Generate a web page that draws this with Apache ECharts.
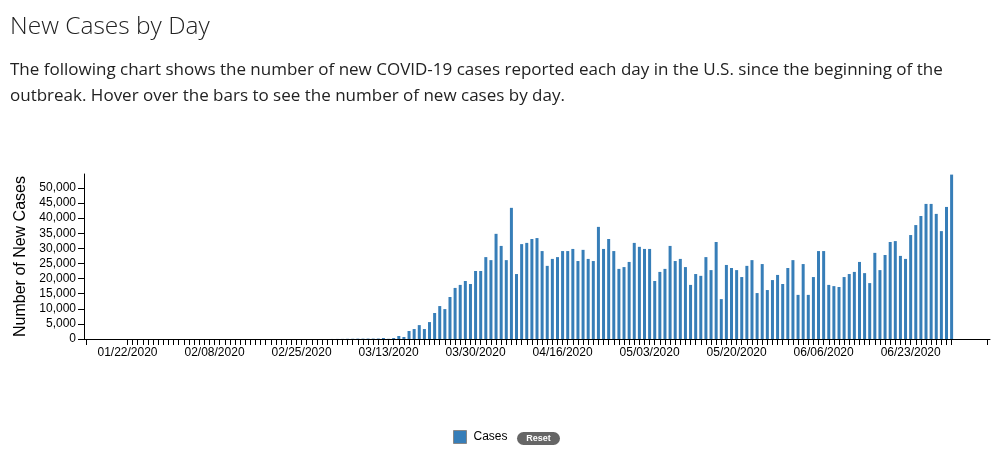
<!DOCTYPE html>
<html>
<head>
<meta charset="utf-8">
<title>New Cases by Day</title>
<script src="https://cdn.jsdelivr.net/npm/echarts@6/dist/echarts.min.js"></script>
<style>
  html, body { margin: 0; padding: 0; background: #fff; }
  #chart { width: 999px; height: 455px; }
</style>
</head>
<body>
<div id="chart"></div>
<script>
// daily new cases, first day 01/22/2020
const firstDay = "2020-01-22";
const janCases = [1, 0, 1, 0, 3, 0, 0, 0, 1, 1];
const febCases = [0, 2, 3, 0, 0, 0, 0, 1, 0, 1, 0, 0, 1, 0, 0, 0, 0, 0, 0, 0,
  0, 0, 0, 0, 0, 0, 1, 3, 9];
const marCases = [7, 13, 22, 31, 64, 81, 118, 120, 135, 140, 150,
  330, 60, 330, 1000, 660, 2650, 3300, 4600, 3300, 5600,
  8600, 10900, 9900, 13900, 16900, 17900, 19200, 18200, 22500, 22500];
const aprCases = [27100, 26100, 34800, 30800, 26100, 43400, 21500, 31400, 31800, 33100,
  33400, 29100, 24200, 26500, 27100, 29100, 29100, 29800, 25800, 29500,
  26500, 25800, 37100, 29800, 33100, 29100, 23200, 23800, 25500, 31800];
const mayCases = [30500, 29800, 29800, 19200, 22200, 23200, 30800, 25800, 26500, 23800,
  17900, 21500, 20900, 27100, 22800, 32100, 13200, 24500, 23500, 22800,
  20500, 24200, 26100, 15200, 24800, 16200, 19500, 21200, 18200, 23500, 26100];
const junCases = [14600, 24800, 14600, 20500, 29100, 29100, 17900, 17500, 17200, 20500,
  21500, 22200, 25500, 21800, 18500, 28500, 22800, 27800, 32100, 32400,
  27500, 26500, 34400, 37700, 40700, 44700, 44700, 41400, 35700, 43700];
const julCases = [54400];
const yMax = 54600;
const labelEvery = 17;

const cases = [].concat(janCases, febCases, marCases, aprCases, mayCases, junCases, julCases);

// empty days on both ends of the time axis
const padLeft = 8;
const padRight = 7;

function fmtDate(d) {
  const mm = String(d.getUTCMonth() + 1).padStart(2, "0");
  const dd = String(d.getUTCDate()).padStart(2, "0");
  return mm + "/" + dd + "/" + d.getUTCFullYear();
}

const days = [];
const start = new Date(firstDay + "T00:00:00Z");
for (let i = -padLeft; i < cases.length + padRight; i++) {
  days.push(fmtDate(new Date(start.getTime() + i * 86400000)));
}
const lastCat = days.length - 1;
const isDataDay = idx => idx >= padLeft && idx < padLeft + cases.length;

const chart = echarts.init(document.getElementById("chart"));

const option = {
  animation: false,
  title: [
    {
      text: "New Cases by Day",
      left: 10,
      top: 15,
      padding: 0,
      textStyle: {
        fontFamily: "Open Sans",
        fontSize: 24.5,
        fontWeight: 300,
        color: "#222"
      }
    },
    {
      text: "The following chart shows the number of new COVID-19 cases reported each day in the U.S. since the beginning of the\noutbreak. Hover over the bars to see the number of new cases by day.",
      left: 10,
      top: 57,
      padding: 0,
      textStyle: {
        fontFamily: "Open Sans",
        fontSize: 17,
        fontWeight: "normal",
        lineHeight: 26,
        color: "#222"
      }
    }
  ],
  legend: {
    data: ["Cases"],
    left: 453,
    top: 430,
    padding: 0,
    icon: "rect",
    itemWidth: 13,
    itemHeight: 13,
    itemGap: 10,
    itemStyle: { borderColor: "#888", borderWidth: 1 },
    textStyle: { fontFamily: "Liberation Sans", fontSize: 12, color: "#000", padding: [0, 0, 0, 2] }
  },
  tooltip: { trigger: "axis" },
  grid: {
    left: 84,
    right: 9,
    top: 174,
    bottom: 116,
    outerBoundsMode: "none"
  },
  xAxis: {
    type: "category",
    data: days,
    axisLine: { lineStyle: { color: "#000", width: 1 } },
    axisTick: {
      show: true,
      alignWithLabel: true,
      length: 6,
      lineStyle: { color: "#000", width: 1 },
      interval: function (idx) {
        return idx === 0 || idx === lastCat || isDataDay(idx);
      }
    },
    axisLabel: {
      interval: function (idx) {
        return isDataDay(idx) && (idx - padLeft) % labelEvery === 0;
      },
      margin: 8,
      fontFamily: "Liberation Sans",
      fontSize: 12,
      color: "#000"
    },
    splitLine: { show: false }
  },
  yAxis: {
    type: "value",
    min: 0,
    max: yMax,
    interval: 5000,
    name: "Number of New Cases",
    nameLocation: "middle",
    nameGap: 54,
    nameTextStyle: { fontFamily: "Liberation Sans", fontSize: 16, color: "#000" },
    axisLine: { show: true, lineStyle: { color: "#000", width: 1 } },
    axisTick: { show: true, length: 6, lineStyle: { color: "#000" } },
    axisLabel: {
      showMaxLabel: false,
      margin: 8,
      fontFamily: "Liberation Sans",
      fontSize: 12,
      color: "#000",
      formatter: v => v.toLocaleString("en-US")
    },
    splitLine: { show: false }
  },
  graphic: [
    {
      type: "group",
      left: 517,
      top: 432,
      children: [
        {
          type: "rect",
          shape: { x: 0, y: 0, width: 43, height: 13, r: 6.5 },
          style: { fill: "#666" }
        },
        {
          type: "text",
          x: 21.5,
          y: 6.5,
          style: {
            text: "Reset",
            fill: "#fff",
            font: "bold 9px 'Liberation Sans'",
            align: "center",
            verticalAlign: "middle"
          }
        }
      ]
    }
  ],
  series: [
    {
      name: "Cases",
      type: "bar",
      data: cases.map((v, i) => [i + padLeft, v]),
      barWidth: 3,
      itemStyle: { color: "#377eb8" }
    }
  ]
};

chart.setOption(option);
</script>
</body>
</html>
